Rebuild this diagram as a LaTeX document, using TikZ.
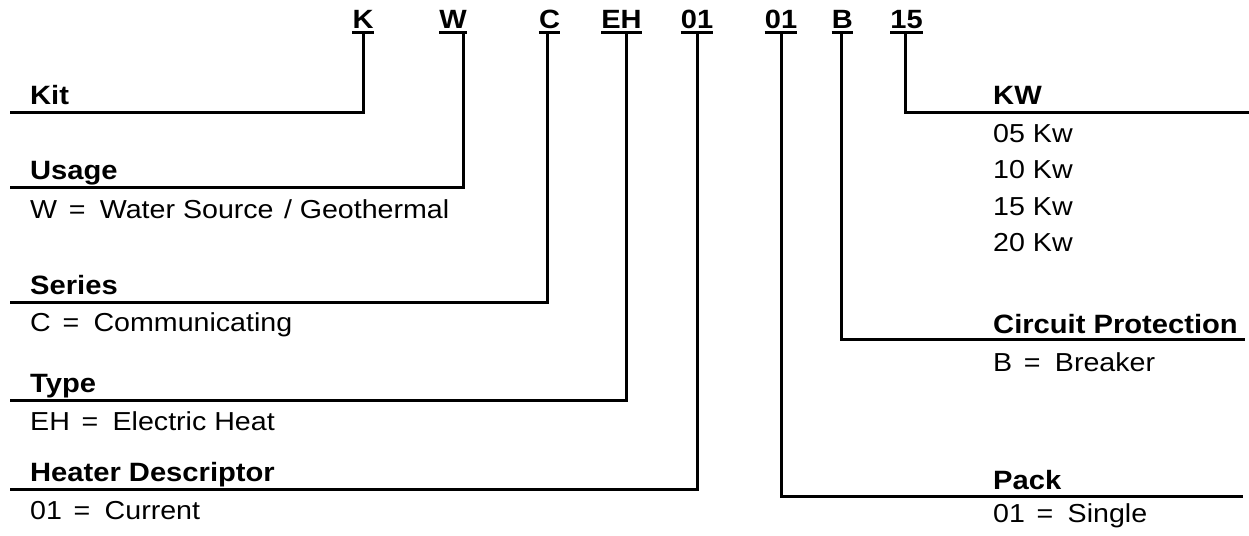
\documentclass[tikz,border=0pt]{standalone}
\usepackage{fontspec}
\setmainfont{Liberation Sans}[FakeStretch=1.1]
\newcommand{\eqs}{\hspace{0.45em}=\hspace{0.55em}}
\newcommand{\sls}{\hspace{0.4em}/\hspace{0.3em}}
\begin{document}
\begin{tikzpicture}[x=1pt,y=-1pt,
  code/.style={anchor=base, inner sep=0pt, font=\fontsize{26.4}{30}\selectfont\bfseries},
  lab/.style={anchor=base west, inner sep=0pt, font=\fontsize{26.5}{30}\selectfont\bfseries},
  val/.style={anchor=base west, inner sep=0pt, font=\fontsize{26}{30}\selectfont},
  conn/.style={line width=3pt},
  uline/.style={line width=3pt}]
\useasboundingbox (0,0) rectangle (1249,535);

% top codes
\node[code] (k)   at (363,29)   {K};
\node[code] (w)   at (453,29)   {W};
\node[code] (c)   at (549.5,29) {C};
\node[code] (eh)  at (621.5,29) {EH};
\node[code] (hd)  at (697,29)   {01};
\node[code] (pk)  at (781,29)   {01};
\node[code] (b)   at (842.4,29) {B};
\node[code] (kw)  at (906.6,29) {15};
\foreach \n in {k,w,c,eh,hd,pk,b,kw}
  \draw[uline] ([yshift=-3.5pt]\n.base west) -- ([yshift=-3.5pt]\n.base east);

% line end points
\coordinate (kitL)  at (10,112);
\coordinate (useL)  at (10,187);
\coordinate (serL)  at (10,302);
\coordinate (typL)  at (10,400);
\coordinate (hdL)   at (10,489);
\coordinate (kwR)   at (1249,112);
\coordinate (cpR)   at (1245,339);
\coordinate (pkR)   at (1243,496);

% connectors
\draw[conn] ([yshift=-5pt]k.south) |- (kitL);
\draw[conn] ([xshift=10pt,yshift=-5pt]w.south) |- (useL);
\draw[conn] ([xshift=-2.5pt,yshift=-5pt]c.south) |- (serL);
\draw[conn] ([xshift=5pt,yshift=-5pt]eh.south) |- (typL);
\draw[conn] ([yshift=-5pt]hd.south) |- (hdL);
\draw[conn] ([yshift=-5pt]pk.south) |- (pkR);
\draw[conn] ([xshift=-1pt,yshift=-5pt]b.south) |- (cpR);
\draw[conn] ([xshift=-1.5pt,yshift=-5pt]kw.south) |- (kwR);

% left labels
\node[lab] (kitT) at (30,104) {Kit};
\node[lab] (useT) at (30,179) {Usage};
\node[val] (useV) at (30,218) {W\eqs Water Source\sls Geothermal};
\node[lab] (serT) at (30,294) {Series};
\node[val] (serV) at (30,331) {C\eqs Communicating};
\node[lab] (typT) at (30,392) {Type};
\node[val] (typV) at (30,430) {EH\eqs Electric Heat};
\node[lab] (hdT)  at (30,481) {Heater Descriptor};
\node[val] (hdV)  at (30,519) {01\eqs Current};

% right labels
\node[lab] (kwT)  at (993,104) {KW};
\node[val] (kw1)  at (993,142) {05 Kw};
\node[val] (kw2)  at (993,178.5) {10 Kw};
\node[val] (kw3)  at (993,215) {15 Kw};
\node[val] (kw4)  at (993,251.5) {20 Kw};
\node[lab] (cpT)  at (993,333) {Circuit Protection};
\node[val] (cpV)  at (993,371) {B\eqs Breaker};
\node[lab] (pkT)  at (993,489) {Pack};
\node[val] (pkV)  at (993,522) {01\eqs Single};
\end{tikzpicture}
\end{document}
